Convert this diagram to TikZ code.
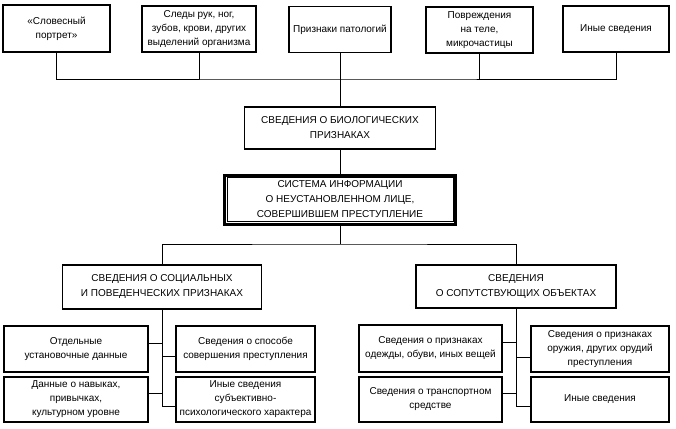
\documentclass[tikz,border=0pt]{standalone}
\usepackage{fontspec}
\setmainfont{Liberation Sans}
\begin{document}
\begin{tikzpicture}[x=1pt,y=-1pt,
  bx/.style={draw, line width=1.1pt, align=center, inner sep=1pt, font=\fontsize{10}{14}\selectfont},
  hd/.style={bx, font=\fontsize{10}{15}\selectfont},
  ln/.style={line width=1pt}]
\useasboundingbox (0,0) rectangle (676,428);
% top row
\node[bx, minimum width=107pt, minimum height=47pt] (b1) at (56.5,28.5) {«Словесный\\портрет»};
\node[bx, minimum width=114pt, minimum height=46pt] (b2) at (199,29) {Следы рук, ног,\\зубов, крови, других\\выделений организма};
\node[bx, minimum width=102pt, minimum height=46pt] (b3) at (340,29.5) {Признаки патологий};
\node[bx, minimum width=107pt, minimum height=46pt] (b4) at (479.5,30) {Повреждения\\на теле,\\микрочастицы};
\node[bx, minimum width=106pt, minimum height=46pt] (b5) at (616,29) {Иные сведения};
% bio
\node[hd, minimum width=191pt, minimum height=42pt] (bio) at (340,128) {СВЕДЕНИЯ О БИОЛОГИЧЕСКИХ\\ПРИЗНАКАХ};
% main
\node[hd, line width=3pt, minimum width=231pt, minimum height=49pt] (main) at (340,199.5) {СИСТЕМА ИНФОРМАЦИИ\\О НЕУСТАНОВЛЕННОМ ЛИЦЕ,\\СОВЕРШИВШЕМ ПРЕСТУПЛЕНИЕ};
\draw[line width=0.9pt] ([shift={(4pt,-4pt)}]main.north west) rectangle ([shift={(-4pt,4pt)}]main.south east);
% second level
\node[hd, minimum width=199pt, minimum height=44pt] (soc) at (162,287) {СВЕДЕНИЯ О СОЦИАЛЬНЫХ\\И ПОВЕДЕНЧЕСКИХ ПРИЗНАКАХ};
\node[hd, minimum width=200pt, minimum height=43pt] (obj) at (516,286.5) {СВЕДЕНИЯ\\О СОПУТСТВУЮЩИХ ОБЪЕКТАХ};
% social children
\node[bx, minimum width=144pt, minimum height=46pt] (A) at (76,349) {Отдельные\\установочные данные};
\node[bx, minimum width=139pt, minimum height=46pt] (B) at (245.5,349) {Сведения о способе\\совершения преступления};
\node[bx, minimum width=144pt, minimum height=45pt] (C) at (76,399.5) {Данные о навыках,\\привычках,\\культурном уровне};
\node[bx, minimum width=139pt, minimum height=45pt] (D) at (245.5,399.5) {Иные сведения\\субъективно-\\психологического характера};
% object children
\node[bx, minimum width=143pt, minimum height=47pt] (E) at (430.5,348.5) {Сведения о признаках\\одежды, обуви, иных вещей};
\node[bx, minimum width=138pt, minimum height=46pt] (F) at (600,349) {Сведения о признаках\\оружия, других орудий\\преступления};
\node[bx, minimum width=143pt, minimum height=45pt] (G) at (430.5,399.5) {Сведения о транспортном\\средстве};
\node[bx, minimum width=138pt, minimum height=45pt] (H) at (600,399.5) {Иные сведения};
% connectors top
\coordinate (bus1) at (340,79);
\draw[ln] (b1.south) |- (bus1) -| (b5.south);
\draw[ln] (b2.south) -- (b2.south |- bus1);
\draw[ln] (b4.south) -- (b4.south |- bus1);
\draw[ln] (b3.south) -- (bio.north);
\draw[ln] (bio.south) -- (main.north);
\coordinate (bus2) at (340,244);
\draw[ln] (main.south) -- (bus2);
\draw[ln] (soc.north) |- (bus2) -| (obj.north);
% social branch
\draw[ln] (soc.south) |- ([yshift=-6.5pt]D.west);
\draw[ln] ([yshift=6pt]A.east) -- ([yshift=6pt]A.east -| soc.south);
\draw[ln] ([yshift=-7pt]B.west) -- ([yshift=-7pt]B.west -| soc.south);
\draw[ln] ([yshift=6.5pt]C.east) -- ([yshift=6.5pt]C.east -| soc.south);
% object branch
\draw[ln] (obj.south) |- ([yshift=-6.5pt]H.west);
\draw[ln] ([yshift=6.5pt]E.east) -- ([yshift=6.5pt]E.east -| obj.south);
\draw[ln] ([yshift=-8pt]F.west) -- ([yshift=-8pt]F.west -| obj.south);
\draw[ln] ([yshift=6.5pt]G.east) -- ([yshift=6.5pt]G.east -| obj.south);
\end{tikzpicture}
\end{document}
